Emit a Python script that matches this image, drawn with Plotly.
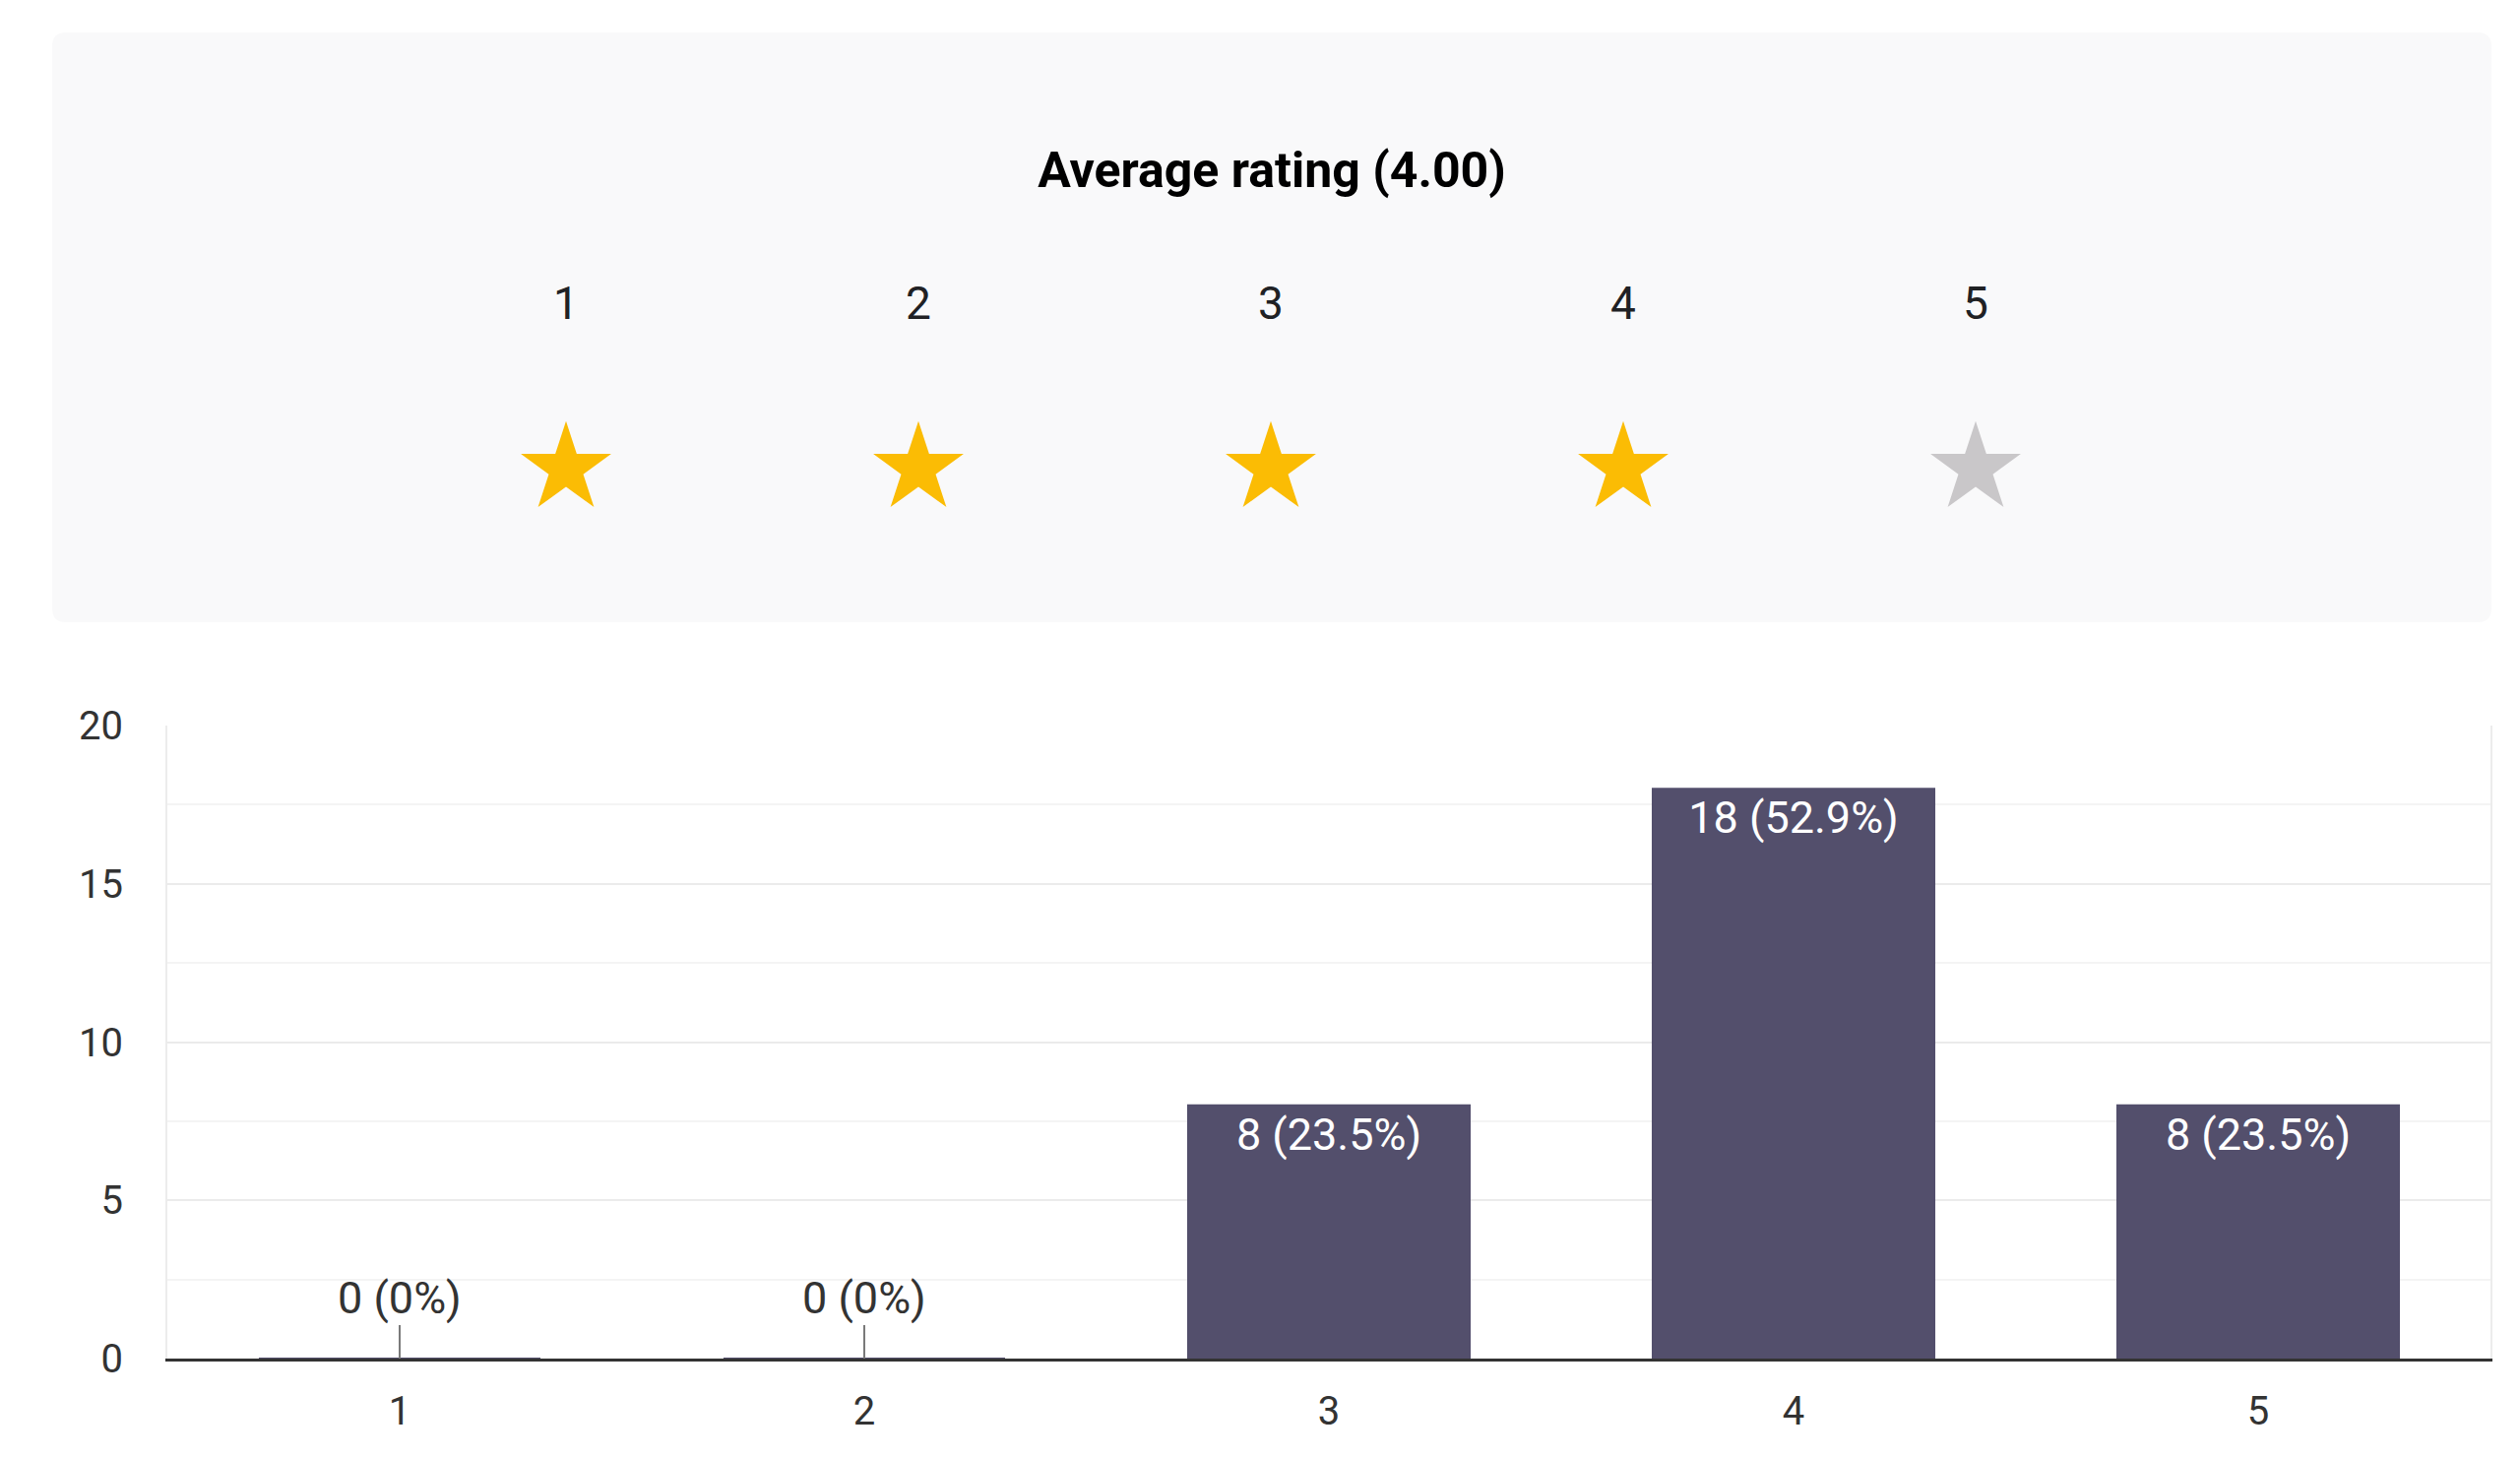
import plotly.graph_objects as go

# survey results
ratings = ["1", "2", "3", "4", "5"]
counts = [0, 0, 8, 18, 8]
star_values = [1, 2, 3, 4, 5]

bar_color = "#534f6c"
star_on = "#fbbc04"
star_off = "#c9c7c9"
font_name = "Roboto"

total = sum(counts)
average = sum(v * c for v, c in zip(star_values, counts)) / total
labels = []
for c in counts:
    pct = c / total * 100
    labels.append(f"{c} (0%)" if pct == 0 else f"{c} ({pct:.1f}%)")

fig = go.Figure()

# bar chart of answers
fig.add_trace(go.Bar(
    x=ratings, y=counts,
    marker=dict(color=bar_color, line=dict(color=bar_color, width=2)),
    text=[l if c > 0 else "" for l, c in zip(labels, counts)],
    textposition="inside", insidetextanchor="end",
    textfont=dict(color="white", size=45, family=font_name),
    showlegend=False, hoverinfo="skip",
    xaxis="x", yaxis="y",
))

# zero answers get a label with a small leader line
for i, (c, l) in enumerate(zip(counts, labels)):
    if c == 0:
        fig.add_annotation(
            x=i, y=0, xref="x", yref="y", text=l,
            showarrow=True, arrowhead=0, arrowwidth=2, arrowcolor="#7a7a7a",
            ax=0, ay=-62, standoff=0,
            font=dict(size=45, color="#333333", family=font_name),
        )

# stars of the average rating
star_colors = [star_on if v <= round(average) else star_off for v in star_values]
fig.add_trace(go.Scatter(
    x=star_values, y=[0] * len(star_values), mode="markers",
    marker=dict(symbol="star", size=69, color=star_colors, line=dict(width=0)),
    showlegend=False, hoverinfo="skip",
    xaxis="x2", yaxis="y2",
))
fig.add_trace(go.Scatter(
    x=star_values, y=[1] * len(star_values), mode="text",
    text=[str(v) for v in star_values],
    textfont=dict(size=46, color="#202124", family=font_name),
    showlegend=False, hoverinfo="skip",
    xaxis="x2", yaxis="y2",
))

# light panel behind the stars (rounded corners)
x0, x1 = -117 / 2360, 2361 / 2360
y0, y1 = 1 - 624 / 1372, 1 - 25 / 1372
rx, ry = 14 / 2360, 14 / 1372
panel_path = (
    f"M {x0 + rx},{y1} L {x1 - rx},{y1} Q {x1},{y1} {x1},{y1 - ry} "
    f"L {x1},{y0 + ry} Q {x1},{y0} {x1 - rx},{y0} "
    f"L {x0 + rx},{y0} Q {x0},{y0} {x0},{y0 + ry} "
    f"L {x0},{y1 - ry} Q {x0},{y1} {x0 + rx},{y1} Z"
)
fig.add_shape(type="path", path=panel_path, xref="paper", yref="paper",
              fillcolor="#f9f9fa", line=dict(width=0), layer="below")

fig.update_layout(
    width=2544, height=1465,
    margin=dict(l=162, r=22, t=0, b=93),
    paper_bgcolor="white", plot_bgcolor="white",
    font=dict(family=font_name, color="#333333"),
    bargap=0.394,
    title=dict(text=f"<b>Average rating ({average:.2f})</b>",
               x=1284 / 2544, xref="container", xanchor="center",
               y=1 - 164 / 1465, yref="container", yanchor="middle",
               font=dict(size=50, color="#000000", family=font_name)),
    xaxis=dict(
        domain=[0, 1], type="category", range=[-0.5, 4.5],
        showgrid=False, zeroline=False,
        showline=True, linecolor="#333333", linewidth=3,
        ticks="", ticklabelstandoff=16,
        tickfont=dict(size=40, color="#333333"),
        automargin=False, fixedrange=True,
    ),
    yaxis=dict(
        domain=[0, 1 - 729 / 1372], range=[0, 20],
        tick0=0, dtick=5,
        showgrid=True, gridcolor="#ebebeb", gridwidth=2,
        minor=dict(dtick=2.5, showgrid=True, gridcolor="#f4f4f4", gridwidth=2),
        zeroline=False,
        showline=True, linecolor="#ececec", linewidth=2, mirror=True,
        ticks="", ticklabelstandoff=35,
        tickfont=dict(size=40, color="#333333"),
        automargin=False, fixedrange=True,
    ),
    xaxis2=dict(
        domain=[226 / 2360, 2016 / 2360], range=[0.5, 5.5],
        anchor="y2", visible=False, fixedrange=True,
    ),
    yaxis2=dict(
        domain=[y0, y1], range=[-0.951, 2.701],
        anchor="x2", visible=False, fixedrange=True,
    ),
)

fig.write_html("out.html")
